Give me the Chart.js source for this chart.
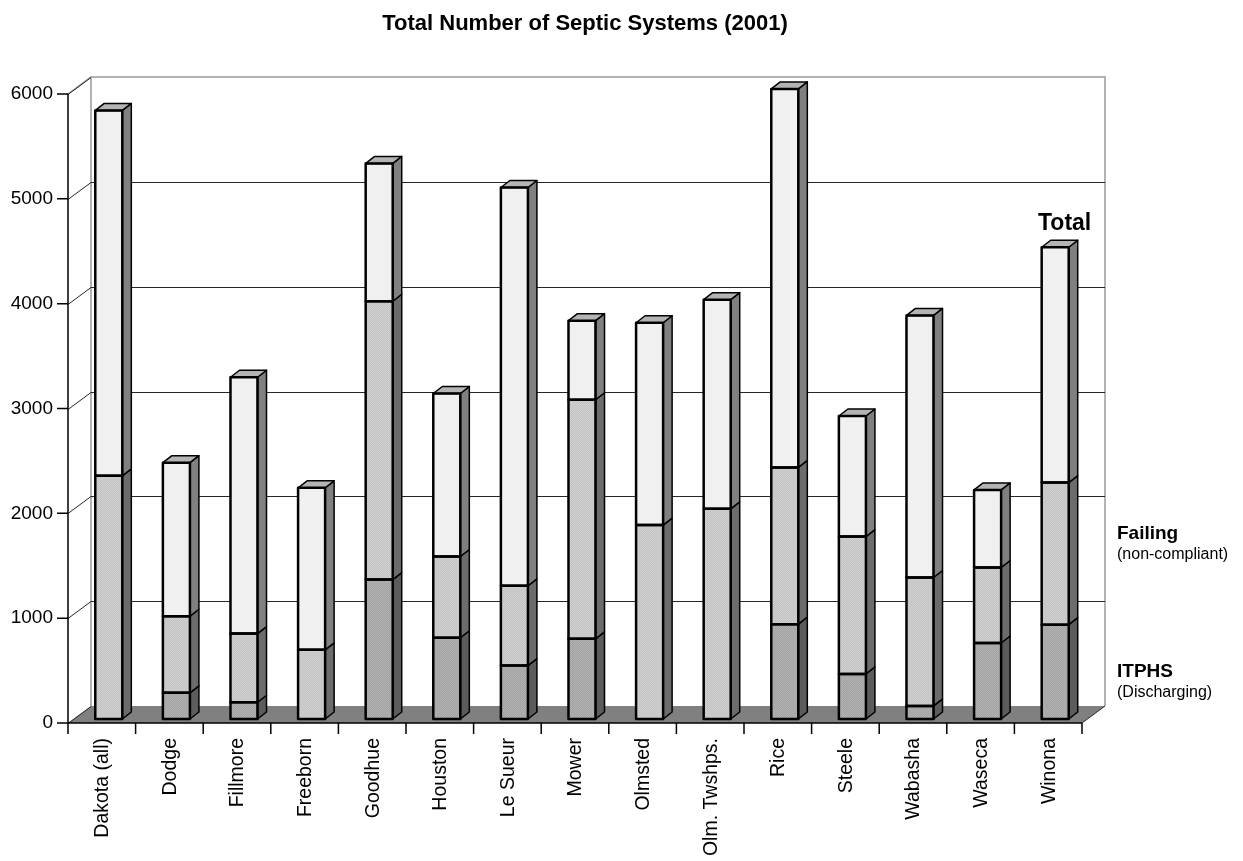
<!DOCTYPE html>
<html>
<head>
<meta charset="utf-8">
<title>Total Number of Septic Systems (2001)</title>
<script src="https://cdn.jsdelivr.net/npm/chart.js@4.4.1/dist/chart.umd.min.js"></script>
<style>
  html, body { margin: 0; padding: 0; background: #fff; }
  canvas { display: block; }
</style>
</head>
<body>
<canvas id="septicChart" width="1243" height="861"></canvas>
<script>
const counties = ['Dakota (all)', 'Dodge', 'Fillmore', 'Freeborn', 'Goodhue', 'Houston', 'Le Sueur', 'Mower',
    'Olmsted', 'Olm. Twshps.', 'Rice', 'Steele', 'Wabasha', 'Waseca', 'Winona'];
// top of the ITPHS (discharging) part
const itphs = [0, 250, 160, 0, 1330, 775, 510, 765, 0, 0, 905, 430, 125, 725, 900];
// top of the failing (non-compliant) part
const failing = [2320, 980, 815, 660, 3985, 1550, 1270, 3045, 1850, 2005, 2400, 1740, 1350, 1445, 2255];
const totals = [5805, 2445, 3260, 2205, 5300, 3105, 5070, 3800, 3780, 4000, 6010, 2890, 3850, 2185, 4500];
const yTicks = [0, 1000, 2000, 3000, 4000, 5000, 6000];

const FONT = "'Liberation Sans', Arial, sans-serif";

// fine dotted fill like the old office charts
function dotted(base, dot) {
    const c = document.createElement('canvas');
    c.width = 2;
    c.height = 2;
    const g = c.getContext('2d');
    g.fillStyle = base;
    g.fillRect(0, 0, 2, 2);
    g.fillStyle = dot;
    g.fillRect(0, 0, 1, 1);
    g.fillRect(1, 1, 1, 1);
    return g.createPattern(c, 'repeat');
}

const fronts = [dotted('#a4a4a4', '#b0b0b0'), dotted('#c4c4c4', '#cfcfcf'), dotted('#ececec', '#f4f4f4')];
const sides = ['#5c5c5c', '#6c6c6c', '#808080'];
const capColor = '#b4b4b4';

// depth offsets (front axis / back wall relative to bar plane)
const FRONT = { dx: -7, dy: 4 };
const BACK = { dx: 16, dy: -13 };
const BAR = { dx: 9, dy: 7 };

const frame3d = {
    id: 'frame3d',
    beforeDatasetsDraw(chart) {
        const { ctx, chartArea: a, scales: { y } } = chart;
        const fl = a.left + FRONT.dx, fr = a.right + FRONT.dx;
        const bl = a.left + BACK.dx, br = a.right + BACK.dx;
        const y0 = y.getPixelForValue(0);
        ctx.save();

        // floor
        ctx.fillStyle = '#808080';
        ctx.beginPath();
        ctx.moveTo(fl, y0 + FRONT.dy);
        ctx.lineTo(fr, y0 + FRONT.dy);
        ctx.lineTo(br, y0 + BACK.dy);
        ctx.lineTo(bl, y0 + BACK.dy);
        ctx.closePath();
        ctx.fill();

        // back wall border
        const topY = y.getPixelForValue(6000);
        ctx.strokeStyle = '#9a9a9a';
        ctx.lineWidth = 1.5;
        ctx.beginPath();
        ctx.moveTo(fl, topY + FRONT.dy);
        ctx.lineTo(bl, topY + BACK.dy);
        ctx.lineTo(br, topY + BACK.dy);
        ctx.lineTo(br, y0 + BACK.dy);
        ctx.moveTo(bl, topY + BACK.dy);
        ctx.lineTo(bl, y0 + BACK.dy);
        ctx.stroke();

        // gridlines on the wall + diagonals to the front axis
        ctx.strokeStyle = '#262626';
        ctx.lineWidth = 1;
        yTicks.forEach(v => {
            const py = Math.round(y.getPixelForValue(v)) + 0.5;
            ctx.beginPath();
            ctx.moveTo(fl, py + FRONT.dy);
            ctx.lineTo(bl, py + BACK.dy);
            if (v > 0 && v < 6000) ctx.lineTo(br, py + BACK.dy);
            ctx.stroke();
        });

        // floor right edge
        ctx.beginPath();
        ctx.moveTo(fr, y0 + FRONT.dy);
        ctx.lineTo(br, y0 + BACK.dy);
        ctx.stroke();

        // front axes
        ctx.strokeStyle = '#000';
        ctx.lineWidth = 1.5;
        ctx.beginPath();
        ctx.moveTo(fl, topY + FRONT.dy);
        ctx.lineTo(fl, y0 + FRONT.dy + 11);
        ctx.moveTo(fl, y0 + FRONT.dy);
        ctx.lineTo(fr, y0 + FRONT.dy);
        yTicks.forEach(v => {
            const py = y.getPixelForValue(v) + FRONT.dy;
            ctx.moveTo(fl - 11, py);
            ctx.lineTo(fl, py);
        });
        const step = (fr - fl) / counties.length;
        for (let i = 1; i <= counties.length; i++) {
            ctx.moveTo(fl + i * step, y0 + FRONT.dy);
            ctx.lineTo(fl + i * step, y0 + FRONT.dy + 11);
        }
        ctx.stroke();

        // tick labels
        ctx.fillStyle = '#000';
        ctx.font = '19px ' + FONT;
        ctx.textAlign = 'right';
        ctx.textBaseline = 'middle';
        yTicks.forEach(v => {
            ctx.fillText(String(v), fl - 15, y.getPixelForValue(v) + FRONT.dy);
        });
        ctx.font = '19.5px ' + FONT;
        counties.forEach((name, i) => {
            ctx.save();
            ctx.translate(fl + (i + 0.5) * step + 1, y0 + FRONT.dy + 15);
            ctx.rotate(-Math.PI / 2);
            ctx.fillText(name, 0, 0);
            ctx.restore();
        });

        // title and side notes
        ctx.textBaseline = 'alphabetic';
        ctx.textAlign = 'center';
        ctx.font = 'bold 22px ' + FONT;
        ctx.fillText('Total Number of Septic Systems (2001)', 585, 30);
        ctx.textAlign = 'left';
        ctx.font = 'bold 23px ' + FONT;
        ctx.fillText('Total', 1038, 230);
        ctx.font = 'bold 19px ' + FONT;
        ctx.fillText('Failing', 1117, 539);
        ctx.fillText('ITPHS', 1117, 677);
        ctx.font = '16px ' + FONT;
        ctx.fillText('(non-compliant)', 1117, 559);
        ctx.fillText('(Discharging)', 1117, 697);
        ctx.restore();
    },
    afterDatasetsDraw(chart) {
        const ctx = chart.ctx;
        ctx.save();
        ctx.strokeStyle = '#000';
        ctx.lineJoin = 'round';
        chart.data.datasets.forEach((ds, d) => {
            chart.getDatasetMeta(d).data.forEach(bar => {
                const top = bar.y, bottom = bar.base;
                if (bottom - top < 1) return;
                const left = bar.x - bar.width / 2, right = bar.x + bar.width / 2;
                ctx.lineWidth = 1.5;
                ctx.fillStyle = sides[d];
                ctx.beginPath();
                ctx.moveTo(right, top);
                ctx.lineTo(right + BAR.dx, top - BAR.dy);
                ctx.lineTo(right + BAR.dx, bottom - BAR.dy);
                ctx.lineTo(right, bottom);
                ctx.closePath();
                ctx.fill();
                ctx.stroke();
                if (d === 2) {
                    ctx.fillStyle = capColor;
                    ctx.beginPath();
                    ctx.moveTo(left, top);
                    ctx.lineTo(left + BAR.dx, top - BAR.dy);
                    ctx.lineTo(right + BAR.dx, top - BAR.dy);
                    ctx.lineTo(right, top);
                    ctx.closePath();
                    ctx.fill();
                    ctx.stroke();
                }
                // front face outline
                ctx.lineWidth = 2.5;
                ctx.strokeRect(left, top, right - left, bottom - top);
            });
        });
        ctx.restore();
    }
};

const segment = (label, data, i) => ({
    label: label,
    data: data,
    backgroundColor: fronts[i],
    borderWidth: 0,
    grouped: false,
    barPercentage: 0.4,
    categoryPercentage: 1.0,
    clip: false
});

new Chart(document.getElementById('septicChart'), {
    type: 'bar',
    data: {
        labels: counties,
        datasets: [
            segment('ITPHS (Discharging)', counties.map((c, i) => [0, itphs[i]]), 0),
            segment('Failing (non-compliant)', counties.map((c, i) => [itphs[i], failing[i]]), 1),
            segment('Total', counties.map((c, i) => [failing[i], totals[i]]), 2)
        ]
    },
    options: {
        responsive: false,
        animation: false,
        layout: { padding: { left: 75, right: 154, top: 90, bottom: 142 } },
        scales: {
            x: { display: false },
            y: { display: false, min: 0, max: 6000 }
        },
        plugins: {
            legend: { display: false },
            title: { display: false },
            tooltip: { enabled: false }
        }
    },
    plugins: [frame3d]
});
</script>
</body>
</html>
